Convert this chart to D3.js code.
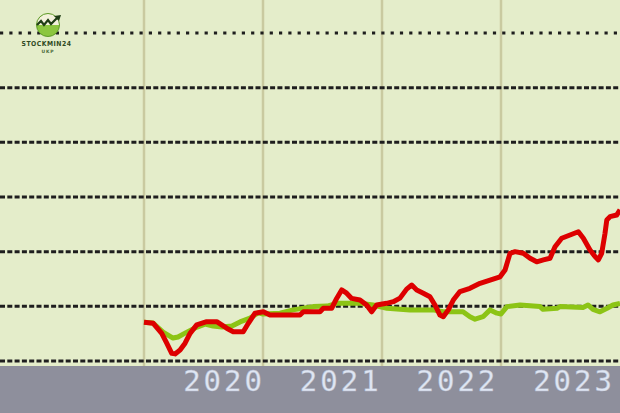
<!DOCTYPE html>
<html>
<head>
<meta charset="utf-8">
<script src="https://cdn.jsdelivr.net/npm/d3@7"></script>
<style>
html,body{margin:0;padding:0;background:#e4edca;}
svg{display:block;}
</style>
</head>
<body>
<svg id="chart" width="620" height="413"></svg>
<script>
// ---- data (fractional year, index value) ----
const years = [2020, 2021, 2022, 2023];
const yTicks = [80, 100, 120, 140, 160, 180, 200];

const redDates = [2020.00,2020.078,2020.149,2020.191,2020.233,2020.261,2020.303,2020.345,2020.387,2020.443,2020.527,2020.611,2020.695,2020.750,2020.834,2020.877,2020.933,2021.003,2021.059,2021.311,2021.339,2021.479,2021.507,2021.577,2021.619,2021.661,2021.703,2021.745,2021.815,2021.871,2021.913,2021.955,2022.039,2022.095,2022.151,2022.207,2022.250,2022.292,2022.347,2022.403,2022.445,2022.487,2022.515,2022.557,2022.599,2022.655,2022.739,2022.824,2022.908,2022.992,2023.034,2023.076,2023.118,2023.187,2023.244,2023.300,2023.356,2023.412,2023.454,2023.510,2023.580,2023.650,2023.692,2023.748,2023.790,2023.818,2023.846,2023.874,2023.889,2023.916,2023.972,2024.000];
const redValues = [94.2,93.8,90.1,86.5,82.8,82.6,84.0,86.5,90.1,93.2,94.4,94.4,92.0,90.7,90.7,93.8,97.5,98.0,96.8,96.8,98.0,98.0,99.3,99.3,102.9,106.0,104.8,102.9,102.3,100.5,98.0,100.5,101.1,101.7,103.0,106.3,107.8,106.0,104.8,103.5,100.5,96.8,96.2,98.7,102.3,105.4,106.6,108.4,109.6,110.8,113.3,119.4,120.0,119.4,117.6,116.3,117.0,117.6,121.8,124.9,126.1,127.3,124.9,120.6,118.2,117.0,119.4,126.7,131.6,132.8,133.4,135.3];

const greenDates = [2020.00,2020.076,2020.160,2020.244,2020.286,2020.345,2020.429,2020.513,2020.580,2020.655,2020.739,2020.807,2020.891,2020.958,2021.000,2021.143,2021.252,2021.420,2021.538,2021.622,2021.815,2021.924,2022.042,2022.235,2022.429,2022.513,2022.681,2022.739,2022.782,2022.849,2022.908,2022.966,2023.000,2023.050,2023.160,2023.328,2023.353,2023.471,2023.496,2023.689,2023.731,2023.773,2023.832,2023.891,2023.941,2024.000];
const greenValues = [94.2,93.9,90.6,88.4,88.8,90.2,92.1,93.5,92.8,92.4,92.8,94.3,95.7,97.6,97.2,97.5,98.7,99.9,100.1,101.1,101.1,100.5,99.3,98.7,98.7,98.0,98.0,96.2,95.3,96.2,98.7,97.5,97.2,99.9,100.5,99.9,98.9,99.3,99.9,99.6,100.5,98.9,98.0,99.3,100.5,101.1];

// ---- drawing ----
const svg = d3.select("#chart");
const W = 620, H = 413;
const plotBottom = 366;

const x = d3.scaleLinear().domain([2020, 2024]).range([144, 620]);
const y = d3.scaleLinear().domain([80, 200]).range([361, 33]);
const labelX = d3.scaleLinear().domain([2020, 2023]).range([262, 612]);

svg.append("rect").attr("x",0).attr("y",0).attr("width",W).attr("height",plotBottom).attr("fill","#e4edca");
svg.append("rect").attr("x",0).attr("y",plotBottom).attr("width",W).attr("height",H-plotBottom).attr("fill","#8e8f9c");

// vertical gridlines
svg.append("g").selectAll("line").data(years).join("line")
  .attr("x1", d => x(d)).attr("x2", d => x(d))
  .attr("y1", 0).attr("y2", plotBottom)
  .attr("stroke", "#c9caa0").attr("stroke-width", 2.5);

// horizontal gridlines
svg.append("g").selectAll("line").data(yTicks).join("line")
  .attr("x1", 0).attr("x2", W)
  .attr("y1", d => y(d)).attr("y2", d => y(d))
  .attr("stroke", "#1e1e1e").attr("stroke-width", d => d === 200 ? 3.2 : 3)
  .attr("stroke-dasharray", d => d === 200 ? "3.2,6.1" : "5,2.3");

// lines
const line = d3.line().x(d => x(d[0])).y(d => y(d[1]));
const greenData = greenDates.map((d,i) => [d, greenValues[i]]);
const redData = redDates.map((d,i) => [d, redValues[i]]);

svg.append("path").datum(greenData).attr("d", line)
  .attr("fill","none").attr("stroke","#8cc415").attr("stroke-width",5)
  .attr("stroke-linejoin","round");
svg.append("path").datum(redData).attr("d", line)
  .attr("fill","none").attr("stroke","#dd0000").attr("stroke-width",5)
  .attr("stroke-linejoin","round");

// year labels
svg.append("g").selectAll("text").data(years).join("text")
  .attr("x", d => labelX(d) + 3)
  .attr("y", 391)
  .attr("text-anchor", "end")
  .attr("font-family", "DejaVu Sans Mono, monospace")
  .attr("font-size", 29)
  .attr("letter-spacing", 3)
  .attr("fill", "#dfe6f3")
  .attr("stroke", "#b8bdd0").attr("stroke-width", 0.4)
  .text(d => d);

// logo
const logo = svg.append("g");
logo.append("circle").attr("cx",48).attr("cy",25).attr("r",11.5).attr("fill","#8cc63f");
logo.append("path").attr("d","M36.5,25 A11.5,11.5 0 0 1 59.5,25 Z").attr("fill","#f3f1dc");
logo.append("circle").attr("cx",48).attr("cy",25).attr("r",11.5).attr("fill","none").attr("stroke","#5f9a2a").attr("stroke-width",1);
logo.append("polyline").attr("points","37,25 41,21 44,25 48,20 51,24 57,18")
  .attr("fill","none").attr("stroke","#1f3d15").attr("stroke-width",2.2);
logo.append("path").attr("d","M54,16 L61,15 L59,21 Z").attr("fill","#1f3d15");
logo.append("text").attr("x",46.5).attr("y",46).attr("text-anchor","middle")
  .attr("font-family","DejaVu Sans Condensed, DejaVu Sans, sans-serif").attr("font-weight","bold")
  .attr("font-size",6.8).attr("letter-spacing",0.5).attr("fill","#2f4a23").text("STOCKMIN24");
logo.append("text").attr("x",48).attr("y",52.5).attr("text-anchor","middle")
  .attr("font-family","DejaVu Sans, sans-serif").attr("font-weight","bold")
  .attr("font-size",4.5).attr("letter-spacing",0.8).attr("fill","#4a6a38").text("UKP");
</script>
</body>
</html>
